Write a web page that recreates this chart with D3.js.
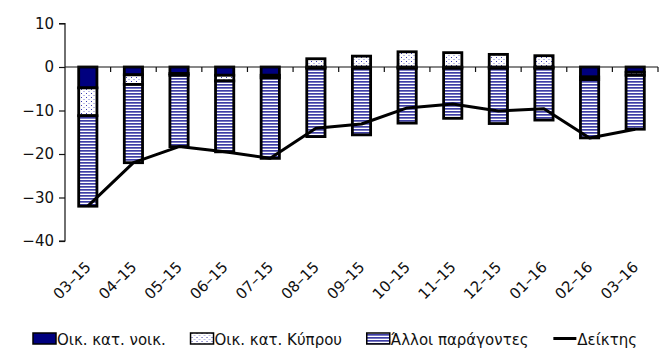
<!DOCTYPE html>
<html>
<head>
<meta charset="utf-8">
<script src="https://cdn.jsdelivr.net/npm/d3@7"></script>
<style>
  html, body { margin: 0; padding: 0; background: #fff; }
  svg text { font-family: "DejaVu Sans", Verdana, sans-serif; fill: #111; }
</style>
</head>
<body>
<svg id="chart" width="667" height="363"></svg>
<script>
// Monthly categories (month–year)
const categories = ["03–15","04–15","05–15","06–15","07–15","08–15","09–15","10–15","11–15","12–15","01–16","02–16","03–16"];
// Contribution: rented housing costs
const rentSeries = [-4.8, -1.8, -1.5, -1.9, -1.9, -0.3, -0.3, -0.3, -0.3, -0.3, -0.3, -2.3, -1.2];
// Contribution: Cyprus housing costs
const cyprusSeries = [-6.4, -2.2, -0.4, -1.3, -0.6, 1.9, 2.5, 3.5, 3.3, 2.9, 2.6, -0.6, -0.7];
// Contribution: other factors
const otherSeries = [-20.8, -18.0, -16.4, -16.3, -18.5, -15.7, -15.3, -12.6, -11.5, -12.7, -11.9, -13.4, -12.4];
// Index line
const indexSeries = [-32.0, -22.0, -18.3, -19.5, -21.0, -14.1, -13.1, -9.4, -8.5, -10.1, -9.6, -16.3, -14.3];
// Y axis ticks
const yTicks = [10, 0, -10, -20, -30, -40];
// Legend labels
const seriesNames = ["Οικ. κατ. νοικ.", "Οικ. κατ. Κύπρου", "Άλλοι παράγοντες", "Δείκτης"];

const svg = d3.select("#chart");
const defs = svg.append("defs");

// Dotted fill
const dots = defs.append("pattern").attr("id", "dots")
  .attr("patternUnits", "userSpaceOnUse").attr("width", 5).attr("height", 4);
dots.append("rect").attr("width", 5).attr("height", 4).attr("fill", "#fff");
dots.append("rect").attr("x", 1).attr("y", 1).attr("width", 1).attr("height", 1).attr("fill", "#3a3ab0");
dots.append("rect").attr("x", 3.5).attr("y", 3).attr("width", 1).attr("height", 1).attr("fill", "#7a7ad0");

// Horizontal stripes fill
const stripes = defs.append("pattern").attr("id", "stripes")
  .attr("patternUnits", "userSpaceOnUse").attr("width", 4).attr("height", 3);
stripes.append("rect").attr("width", 4).attr("height", 3).attr("fill", "#fff");
stripes.append("rect").attr("y", 0).attr("width", 4).attr("height", 1.7).attr("fill", "#3e3ea6");

const fills = ["#00007f", "url(#dots)", "url(#stripes)"];

const x = d3.scaleBand().domain(categories).range([65, 658]).paddingInner(0.6).paddingOuter(0.3);
const y = d3.scaleLinear().domain([-40, 10]).range([241, 23.5]);

// Stacked data (negatives stack downward, positives upward)
const rows = categories.map((c, i) => ({ cat: c, rent: rentSeries[i], cyprus: cyprusSeries[i], other: otherSeries[i] }));
const stacked = d3.stack().keys(["rent", "cyprus", "other"]).offset(d3.stackOffsetDiverging)(rows);

// Y axis
const yAxis = svg.append("g").attr("transform", "translate(65,0)")
  .call(d3.axisLeft(y).tickValues(yTicks).tickSize(6).tickPadding(5).tickFormat(d3.format("d")));
yAxis.select(".domain").attr("stroke", "#111").attr("stroke-width", 1.2).attr("d", `M-6,${y(10)}H0V${y(-40)}H-6`);
yAxis.selectAll(".tick line").attr("stroke", "#111").attr("stroke-width", 1.2);
yAxis.selectAll(".tick text").attr("font-size", 15).attr("font-family", "DejaVu Sans, sans-serif").attr("fill", "#111");

// Bars
svg.append("g").selectAll("g").data(stacked).join("g")
  .attr("fill", (d, i) => fills[i])
  .selectAll("rect").data(d => d).join("rect")
  .filter(d => d[1] - d[0] !== 0)
  .attr("x", d => x(d.data.cat))
  .attr("width", x.bandwidth())
  .attr("y", d => y(d[1]))
  .attr("height", d => y(d[0]) - y(d[1]))
  .attr("stroke", "#000").attr("stroke-width", 2.8);

// X axis at zero with tick marks between categories
const step = x.step();
const boundaries = d3.range(1, categories.length + 1).map(i => 65 + i * step);
const xg = svg.append("g");
xg.append("line").attr("x1", 65).attr("x2", 658).attr("y1", y(0)).attr("y2", y(0))
  .attr("stroke", "#111").attr("stroke-width", 1.2);
xg.selectAll("line.t").data(boundaries).join("line").attr("class", "t")
  .attr("x1", d => d).attr("x2", d => d).attr("y1", y(0)).attr("y2", y(0) + 5)
  .attr("stroke", "#111").attr("stroke-width", 1.2);

// Category labels, rotated
svg.append("g").selectAll("text").data(categories).join("text")
  .attr("transform", d => `translate(${x(d) + x.bandwidth() / 2 + 4},${268}) rotate(-45)`)
  .attr("text-anchor", "end").attr("font-size", 15).text(d => d);

// Index line
const line = d3.line().x((d, i) => x(categories[i]) + x.bandwidth() / 2).y(d => y(d));
svg.append("path").datum(indexSeries).attr("d", line)
  .attr("fill", "none").attr("stroke", "#000").attr("stroke-width", 3).attr("stroke-linejoin", "round");

// Legend, spread across the width
const lg = svg.append("g").attr("transform", "translate(0,340)");
const items = seriesNames.map((name, i) => {
  const g = lg.append("g");
  if (i < 3) {
    g.append("rect").attr("x", 0).attr("y", -7).attr("width", 23).attr("height", 11)
      .attr("fill", fills[i]).attr("stroke", "#000").attr("stroke-width", 1.5);
  } else {
    g.append("line").attr("x1", 0).attr("x2", 23).attr("y1", -1.5).attr("y2", -1.5)
      .attr("stroke", "#000").attr("stroke-width", 3);
  }
  const t = g.append("text").attr("x", 24).attr("y", 4.5).attr("font-size", 15).text(name);
  return { g, w: 24 + t.node().getComputedTextLength() };
});
const legendStart = 33, legendEnd = 637;
const gap = (legendEnd - legendStart - d3.sum(items, d => d.w)) / (items.length - 1);
let lx = legendStart;
items.forEach(it => { it.g.attr("transform", `translate(${lx},0)`); lx += it.w + gap; });
</script>
</body>
</html>
